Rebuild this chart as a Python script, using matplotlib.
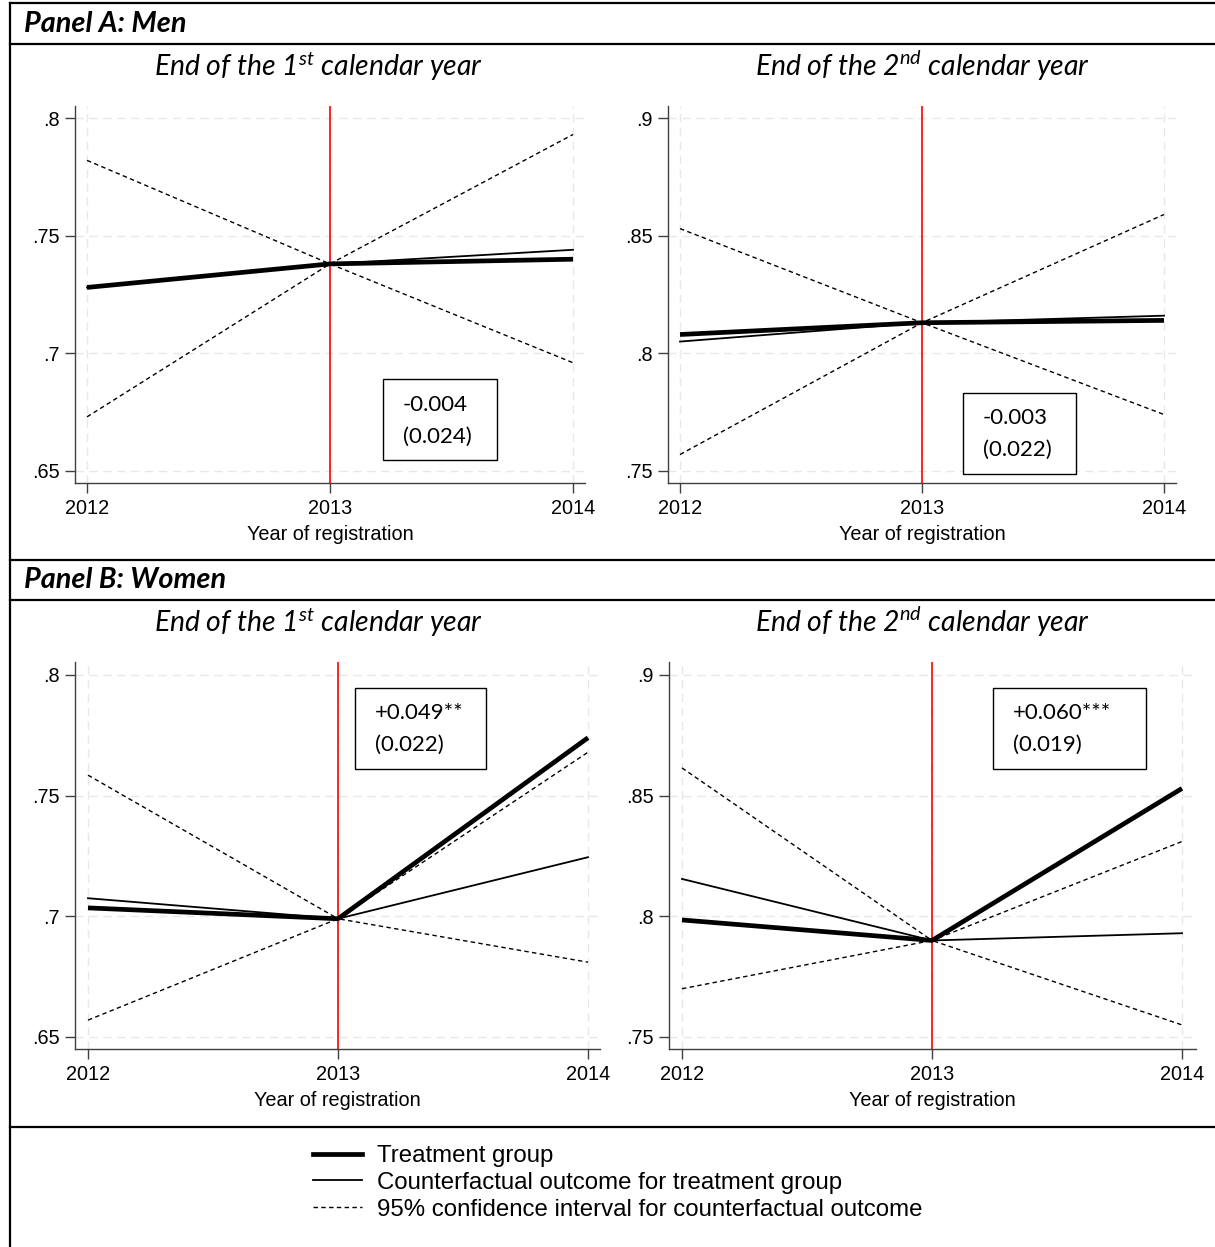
import matplotlib
matplotlib.use("Agg")
import matplotlib.pyplot as plt
from matplotlib.lines import Line2D
from matplotlib.patches import Rectangle

plt.rcParams["font.family"] = ["Liberation Sans", "DejaVu Sans"]
plt.rcParams["mathtext.fontset"] = "custom"
plt.rcParams["mathtext.it"] = "Lato:italic"
plt.rcParams["mathtext.rm"] = "Lato:italic"

years = [2012, 2013, 2014]

# Panel A: men
men_y1_treat = [0.728, 0.738, 0.740]
men_y1_cf = [0.728, 0.738, 0.744]
men_y1_upper = [0.782, 0.738, 0.793]
men_y1_lower = [0.673, 0.738, 0.696]

men_y2_treat = [0.808, 0.813, 0.814]
men_y2_cf = [0.805, 0.813, 0.816]
men_y2_upper = [0.853, 0.813, 0.859]
men_y2_lower = [0.757, 0.813, 0.774]

# Panel B: women
women_y1_treat = [0.7035, 0.699, 0.774]
women_y1_cf = [0.7075, 0.699, 0.7245]
women_y1_upper = [0.7585, 0.699, 0.768]
women_y1_lower = [0.657, 0.699, 0.681]

women_y2_treat = [0.7985, 0.790, 0.853]
women_y2_cf = [0.8155, 0.790, 0.793]
women_y2_upper = [0.8615, 0.790, 0.831]
women_y2_lower = [0.770, 0.790, 0.755]

yticks_y1 = [0.65, 0.70, 0.75, 0.80]
yticks_y2 = [0.75, 0.80, 0.85, 0.90]
ytick_labels_y1 = [".65", ".7", ".75", ".8"]
ytick_labels_y2 = [".75", ".8", ".85", ".9"]

estimates = [
    ("-0.004", "(0.024)"),
    ("-0.003", "(0.022)"),
    ("+0.049**", "(0.022)"),
    ("+0.060***", "(0.019)"),
]

W, H = 1215, 1247
fig = plt.figure(figsize=(W / 100, H / 100), dpi=100)


def fx(x):
    return x / W


def fy(y):
    return 1 - y / H


def frame_line(x0, y0, x1, y1, lw=1.6):
    fig.add_artist(Line2D([fx(x0), fx(x1)], [fy(y0), fy(y1)],
                          color="black", lw=lw, transform=fig.transFigure))


# outer table rules
frame_line(10, 3, 10, H)
for yy in [3, 44, 560, 600, 1127]:
    frame_line(10, yy, W, yy)

hfont = dict(family="Lato", style="italic", weight="bold", fontsize=20.8)
fig.text(fx(24), fy(24), "Panel A: Men", ha="left", va="center", **hfont)
fig.text(fx(24), fy(580), "Panel B: Women", ha="left", va="center", **hfont)

sub1 = r"End of the 1$^{st}$ calendar year"
sub2 = r"End of the 2$^{nd}$ calendar year"
sfont = dict(family="Lato", style="italic", fontsize=20.4)
fig.text(fx(318), fy(66), sub1, ha="center", va="center", **sfont)
fig.text(fx(922), fy(66), sub2, ha="center", va="center", **sfont)
fig.text(fx(318), fy(622), sub1, ha="center", va="center", **sfont)
fig.text(fx(922), fy(622), sub2, ha="center", va="center", **sfont)

# axes boxes in pixels: left, top, right, bottom, pixel of x=2012, x=2014, first and last y tick
layout = [
    (75, 106, 585, 483, 87, 573, 471, 118),
    (668, 106, 1176, 483, 680, 1164, 471, 118),
    (75, 662, 600, 1049, 88, 588, 1037, 675),
    (669, 662, 1196, 1049, 682, 1182, 1037, 675),
]

series = [
    (men_y1_treat, men_y1_cf, men_y1_upper, men_y1_lower, yticks_y1, ytick_labels_y1),
    (men_y2_treat, men_y2_cf, men_y2_upper, men_y2_lower, yticks_y2, ytick_labels_y2),
    (women_y1_treat, women_y1_cf, women_y1_upper, women_y1_lower, yticks_y1, ytick_labels_y1),
    (women_y2_treat, women_y2_cf, women_y2_upper, women_y2_lower, yticks_y2, ytick_labels_y2),
]

dash = (0, (3.2, 2.4))

for (l, t, r, b, x12, x14, ylo_px, yhi_px), (tr, cf, up, lo, yt, ytl) in zip(layout, series):
    ax = fig.add_axes([fx(l), fy(b), fx(r - l), (b - t) / H])
    # map pixel edges back to data limits
    sx = (years[-1] - years[0]) / (x14 - x12)
    ax.set_xlim(years[0] - (x12 - l) * sx, years[-1] + (r - x14) * sx)
    sy = (yt[-1] - yt[0]) / (ylo_px - yhi_px)
    ax.set_ylim(yt[0] - (b - ylo_px) * sy, yt[-1] + (yhi_px - t) * sy)

    ax.grid(True, color="#e8e8e8", linestyle=(0, (6, 4)), lw=1.0)
    ax.set_axisbelow(True)
    ax.axvline(2013, color="#ff0000", lw=1.2, zorder=2)

    ax.plot(years, up, color="black", lw=1.0, linestyle=dash, zorder=3)
    ax.plot(years, lo, color="black", lw=1.0, linestyle=dash, zorder=3)
    ax.plot(years, cf, color="black", lw=1.3, zorder=4)
    ax.plot(years, tr, color="black", lw=3.4, zorder=5, solid_capstyle="butt")

    ax.set_xticks(years)
    ax.set_xticklabels([str(y) for y in years])
    ax.set_yticks(yt)
    ax.set_yticklabels(ytl)
    ax.tick_params(axis="both", direction="out", length=7, width=1.0,
                   color="#404040", labelsize=14.3)
    ax.tick_params(axis="x", pad=4.8)
    ax.tick_params(axis="y", pad=4)
    for s in ["top", "right"]:
        ax.spines[s].set_visible(False)
    for s in ["left", "bottom"]:
        ax.spines[s].set_color("#404040")
        ax.spines[s].set_linewidth(1.0)
    ax.set_xlabel("Year of registration", fontsize=14.3, labelpad=5)

# estimate boxes (left, top, right, bottom, text x, line 1 y, line 2 y)
boxes = [
    (383, 379, 497, 460, 403, 405, 437),
    (963, 393, 1076, 474, 983, 418, 450),
    (355, 688, 486, 769, 375, 713, 745),
    (993, 688, 1146, 769, 1013, 713, 745),
]
for (bl, bt, br, bb, tx, ty1, ty2), (est, se) in zip(boxes, estimates):
    fig.add_artist(Rectangle((fx(bl), fy(bb)), fx(br - bl), (bb - bt) / H,
                             facecolor="white", edgecolor="black", lw=1.0,
                             transform=fig.transFigure, zorder=10))
    fig.text(fx(tx), fy(ty1), est, family="Lato", fontsize=16, ha="left",
             va="center", zorder=11)
    fig.text(fx(tx), fy(ty2), se, family="Lato", fontsize=16, ha="left",
             va="center", zorder=11)

handles = [
    Line2D([], [], color="black", lw=3.4),
    Line2D([], [], color="black", lw=1.3),
    Line2D([], [], color="black", lw=1.0, linestyle=dash),
]
labels = [
    "Treatment group",
    "Counterfactual outcome for treatment group",
    "95% confidence interval for counterfactual outcome",
]
fig.legend(handles, labels, loc="upper left", bbox_to_anchor=(fx(313), fy(1145)),
           frameon=False, fontsize=17.3, handlelength=2.05, handletextpad=0.62,
           labelspacing=0.2, borderpad=0, borderaxespad=0)

fig.savefig("out.png", dpi=100)
